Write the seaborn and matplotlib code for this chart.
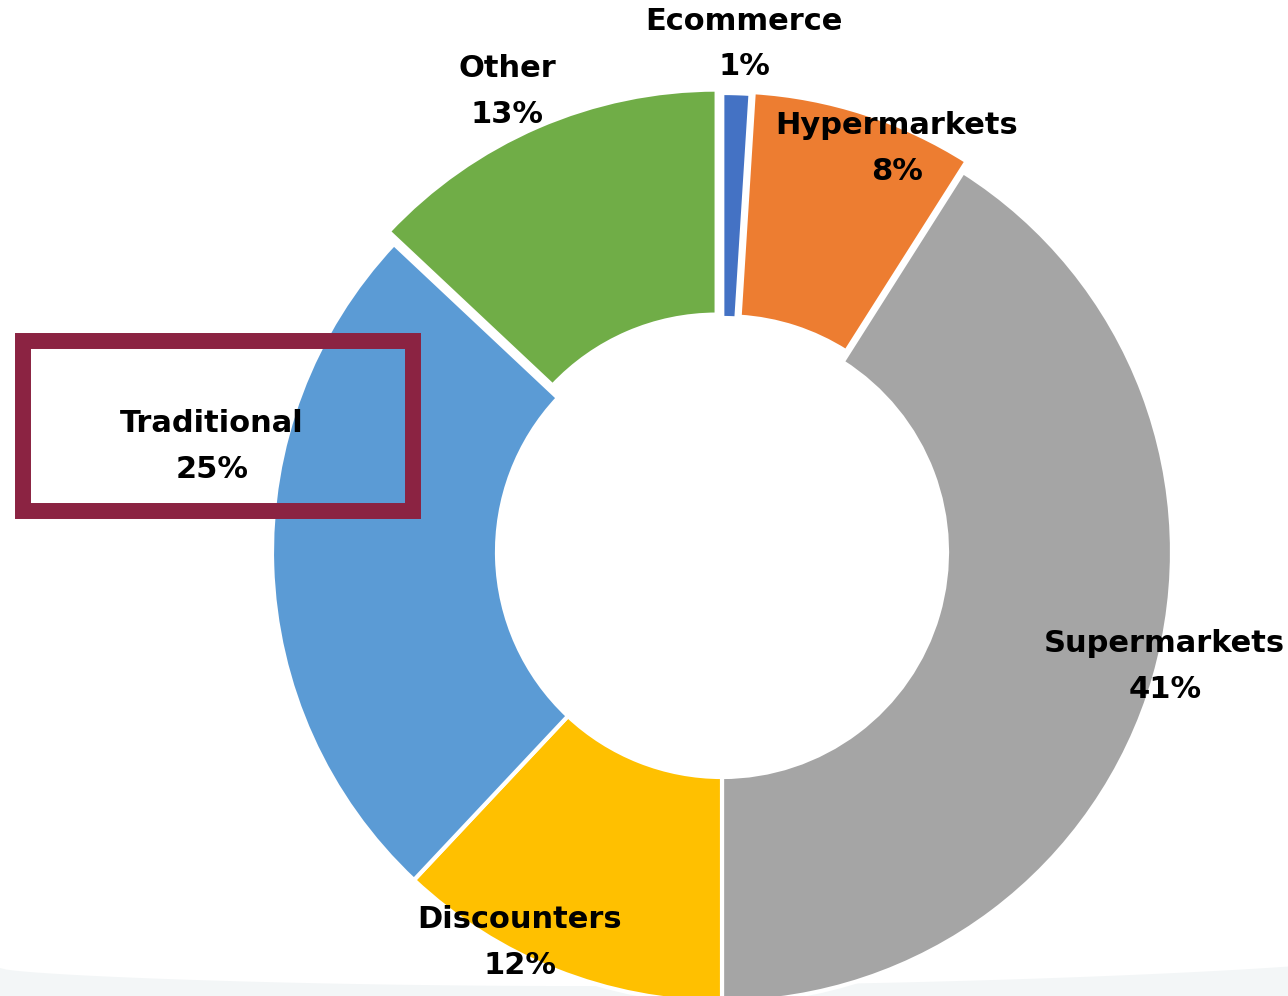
import matplotlib
matplotlib.use("Agg")
import matplotlib.pyplot as plt
import seaborn as sns
import numpy as np
from matplotlib.patches import Rectangle, Polygon

# Channel share data (clockwise from 12 o'clock)
channels = ["Ecommerce", "Hypermarkets", "Supermarkets", "Discounters", "Traditional", "Other"]
shares = [1, 8, 41, 12, 25, 13]
colors = ["#4472C4", "#ED7D31", "#A5A5A5", "#FFC000", "#5B9BD5", "#70AD47"]

# Layout: explode offsets and label anchors (data units of the pie axes)
explode = [0.02, 0.025, 0.0, 0.0, 0.0, 0.03]
label_xy = [(0.049, 1.129), (0.389, 0.897), (0.984, -0.254),
            (-0.449, -0.868), (-1.133, 0.234), (-0.478, 1.023)]
highlight = "Traditional"

sns.set_theme(style="white")
plt.rcParams["font.family"] = ["DejaVu Sans"]

W, H = 1288, 996
fig = plt.figure(figsize=(W / 100, H / 100), dpi=100)
fig.patch.set_facecolor("white")

# soft background band along the bottom edge (kept behind the chart)
bx = np.linspace(0, W, 200)
by = 968 + 20 * np.sin(np.pi * bx / W * 0.95) ** 0.6 - 8 * (bx / W) ** 2
band = Polygon(np.column_stack([np.r_[bx, W, 0], H - np.r_[by, H, H]]) / [W, H],
               closed=True, transform=fig.transFigure, facecolor="#F3F6F7",
               edgecolor="none", zorder=-5)
fig.patches.append(band)

cx, cy, R = 722, 552, 450
ax = fig.add_axes([(cx - R) / W, (H - cy - R) / H, 2 * R / W, 2 * R / H])
ax.set_zorder(1)
ax.set_facecolor("none")
wedges, _ = ax.pie(shares, colors=colors, startangle=90, counterclock=False,
                   explode=explode, radius=1.0,
                   wedgeprops=dict(width=0.5, edgecolor="white", linewidth=3))
for w in wedges:
    w.set_clip_on(False)
ax.set_xlim(-1, 1)
ax.set_ylim(-1, 1)
ax.set_aspect("equal")
ax.axis("off")

for name, val, (x, y) in zip(channels, shares, label_xy):
    ax.text(x, y, f"{name}\n{val}%", ha="center", va="center", fontsize=22,
            fontweight="bold", color="black", linespacing=1.72, clip_on=False,
            zorder=5)

# frame around the highlighted category
i = channels.index(highlight)
hx, hy = label_xy[i]
ax.add_patch(Rectangle((hx - 0.42, hy - 0.143), 0.866, 0.378, fill=False,
                       edgecolor="#8B2342", linewidth=11.5, clip_on=False,
                       joinstyle="miter", zorder=4))

fig.savefig("out.png", dpi=100, facecolor="white")
